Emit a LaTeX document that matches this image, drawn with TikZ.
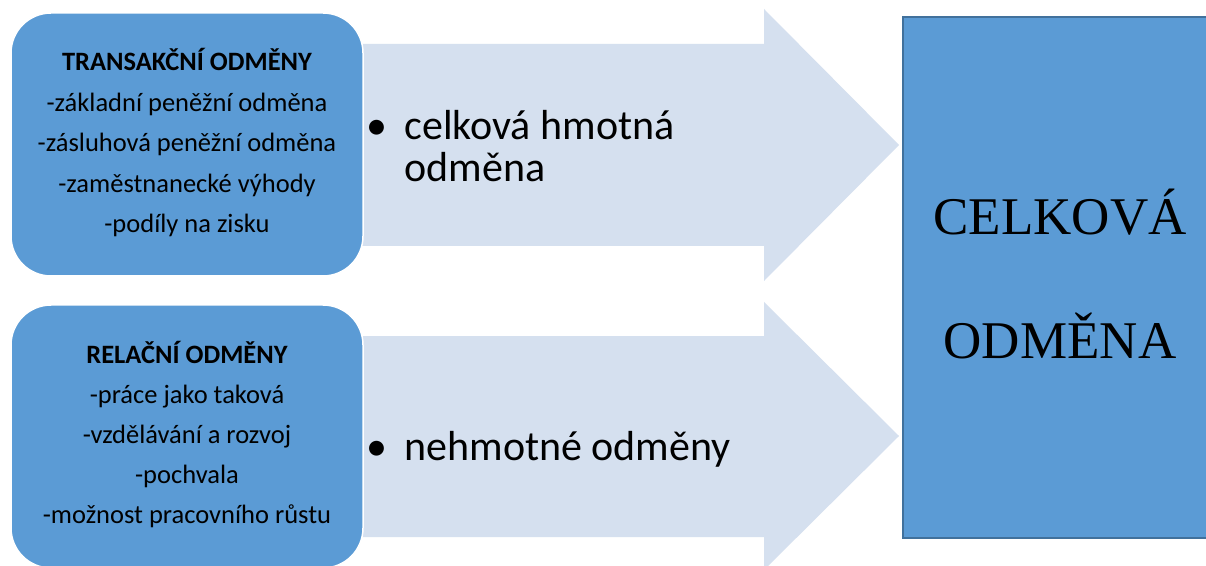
\documentclass[tikz,border=0pt]{standalone}
\usepackage{fontspec}
\setmainfont{Carlito}
\newfontfamily\bigserif{Liberation Serif}
\usepackage{tikz}
\definecolor{Box}{HTML}{5B9BD5}
\definecolor{BoxLine}{HTML}{41719C}
\definecolor{Arrow}{HTML}{D5E0EF}
\definecolor{Ink}{HTML}{000000}
\tikzset{
  kind/.style={fill=Box,draw=white,line width=1.5bp,rounded corners=40bp},
  itemtxt/.style={font=\fontsize{26.5bp}{30bp}\selectfont,Ink,anchor=base},
  bullettxt/.style={font=\fontsize{42bp}{44bp}\selectfont,Ink,anchor=base west},
  totaltxt/.style={font=\bigserif\fontsize{53bp}{56bp}\selectfont,Ink,anchor=base}
}

\begin{document}
\begin{tikzpicture}[x=1bp,y=-1bp]
  \useasboundingbox (0,0) rectangle (1206,566);
  \fill[white] (0,0) rectangle (1206,566);
  % block arrows, shaft top/bottom, head top, tip y
  \foreach \n/\st/\sb/\ht/\tip in {up/44/246/9/145, down/336/537/302/436} {
    \fill[Arrow] (355,\st) -- (764,\st) -- (764,\ht) -- (899,\tip)
      -- (764,{2*\tip-\ht}) -- (764,\sb) -- (355,\sb) -- cycle;
  }
  % two kinds of reward
  \draw[kind] (11,13) rectangle (363,276);
  \draw[kind] (11,305) rectangle (363,568);
  \node[itemtxt,font=\fontsize{26.5bp}{30bp}\selectfont\bfseries] (trtitle) at (187,71) {TRANSAKČNÍ ODMĚNY};
  \foreach \t [count=\i] in {-základní peněžní odměna,-zásluhová peněžní odměna,-zaměstnanecké výhody,-podíly na zisku}
    \node[itemtxt] (tr\i) at (187,{71+40.5*\i}) {\t};
  \node[itemtxt,font=\fontsize{26.5bp}{30bp}\selectfont\bfseries] (retitle) at (187,363) {RELAČNÍ ODMĚNY};
  \foreach \t [count=\i] in {-práce jako taková,-vzdělávání a rozvoj,-pochvala,-možnost pracovního růstu}
    \node[itemtxt] (re\i) at (187,{363+40*\i}) {\t};
  % arrow texts
  \node[bullettxt,anchor=base] (bup) at (377,140) {•};
  \node[bullettxt] (hm1) at (401,140) {celková hmotná};
  \node[bullettxt] (hm2) at (401,182) {odměna};
  \node[bullettxt,anchor=base] (bdown) at (377,460) {•};
  \node[bullettxt] (nehm) at (401,460) {nehmotné odměny};
  % total, runs past the right margin
  \draw[fill=Box,draw=BoxLine,line width=2bp] (903,17) rectangle (1240,538);
  \node[totaltxt] (total1) at (1060,235) {CELKOVÁ};
  \node[totaltxt] (total2) at (1060,359) {ODMĚNA};
\end{tikzpicture}
\end{document}
